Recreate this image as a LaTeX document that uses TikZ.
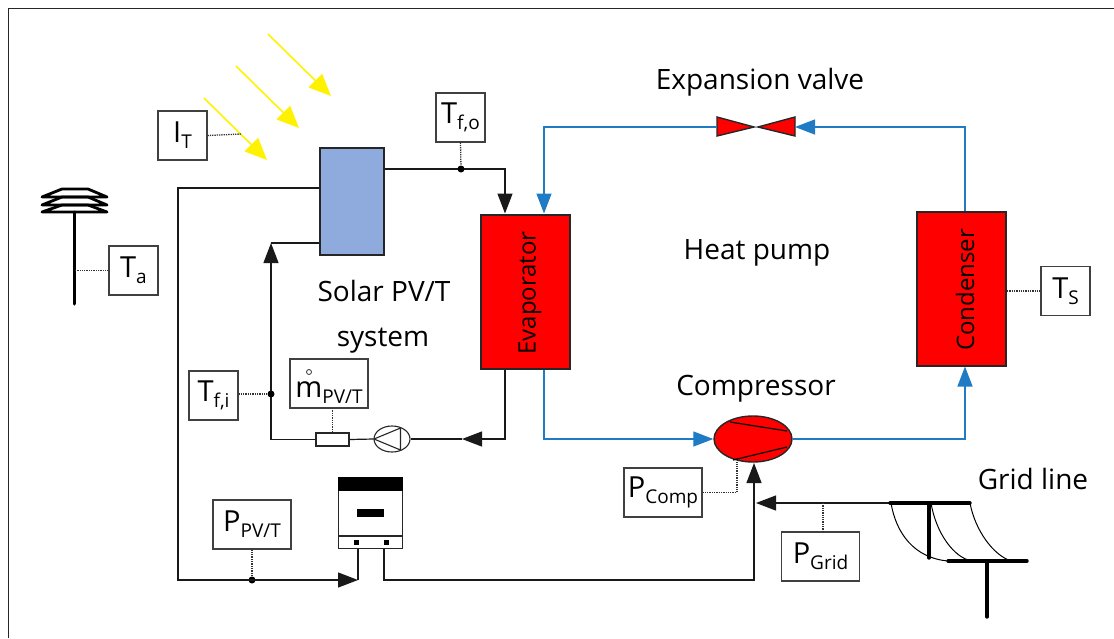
\documentclass[tikz,border=0pt]{standalone}
\usepackage{tikz}
\usepackage{xcolor}
\usepackage{fontspec}
\setmainfont{Open Sans}
\usetikzlibrary{arrows.meta, shapes.geometric}

\definecolor{panelblue}{HTML}{8FAADC}
\definecolor{pipeblue}{HTML}{1F7CC4}

\newcommand{\tagtext}[2]{\fontsize{29}{29}\selectfont #1\raisebox{-6pt}{\fontsize{19}{19}\selectfont #2}}

\tikzset{
  tagbox/.style={draw=black!75, line width=1.1pt, fill=white, minimum height=49pt, inner sep=0pt},
  unit/.style={draw=black!85, line width=2pt, fill=red, inner sep=0pt},
  caption/.style={font=\fontsize{28}{28}\selectfont, inner sep=0pt},
  vertical/.style={rotate=90, font=\fontsize{24}{24}\selectfont, inner sep=0pt},
  wire/.style={line width=1.2pt, black!90},
  pipe/.style={line width=1.3pt, pipeblue},
  probe/.style={line width=1.3pt, black!80, densely dotted},
  wiretip/.style={-{Triangle[length=20pt, width=15pt]}},
  sunray/.style={line width=1.6pt, yellow, -{Triangle[length=22pt, width=19pt]}},
  joint/.style={circle, fill=black, inner sep=0pt, minimum size=7pt},
}

\begin{document}
\begin{tikzpicture}[x=1pt, y=-1pt]
  \useasboundingbox (0,0) rectangle (1114,638);
  % === RAMME ===
  \draw[line width=1pt, black!85] (8,638) -- (8,8) -- (1114,8);

  % === SOL OG PANEL ===
  \coordinate (rayA) at (204,98);
  \coordinate (rayB) at (236,66);
  \coordinate (rayC) at (268,34);
  \draw[sunray] (rayA) -- ++(63,62);
  \draw[sunray] (rayB) -- ++(63,62);
  \draw[sunray] (rayC) -- ++(63,62);
  \node[draw=black!85, line width=2pt, fill=panelblue, minimum width=64pt, minimum height=107pt, inner sep=0pt] (panel) at (351.5,201) {};
  \node[caption] (solarlabel) at (384,291) {Solar PV/T};
  \node[caption] (systemlabel) at (383,341) {system};

  % === ENHETER I VARMEPUMPEN ===
  \node[unit, minimum width=89pt, minimum height=154pt] (evap) at (525,291.5) {};
  \node[vertical] (evaptext) at (530,293) {Evaporator};
  \node[unit, minimum width=89pt, minimum height=154pt] (cond) at (961.5,288.5) {};
  \node[vertical] (condtext) at (965,290) {Condenser};
  \node[unit, ellipse, line width=1.4pt, minimum width=78pt, minimum height=46pt] (comp) at (753,439) {};
  \draw[line width=1.2pt] (730,422) -- (787,431);
  \draw[line width=1.2pt] (733,460) -- (787,447);
  \node[caption] (valvelabel) at (760,82) {Expansion valve};
  \node[caption] (pumplabel) at (757,253) {Heat pump};
  \node[caption] (complabel) at (756,389) {Compressor};

  % Ventil
  \coordinate (valveL) at (717,127);
  \coordinate (valveR) at (795,127);
  \draw[line width=1.4pt, black!85, fill=red] (717,117) -- (754,127) -- (717,136) -- cycle;
  \draw[line width=1.4pt, black!85, fill=red] (795,117) -- (758,127) -- (795,136) -- cycle;

  % === KJOLEMIDDEL (BLA) ===
  \draw[pipe, wiretip] (valveL) -| ([xshift=19pt]evap.north);
  \draw[pipe, wiretip] ([xshift=3.5pt]cond.north) |- (valveR);
  \draw[pipe, wiretip] ([xshift=19pt]evap.south) |- (comp.west);
  \draw[pipe, wiretip] (comp.east) -| ([xshift=3.5pt]cond.south);

  % === TERMISK KRETS ===
  \coordinate (foJoint) at (461,169);
  \coordinate (fiJoint) at (271,394);
  \draw[wire] (panel.east |- foJoint) -- (foJoint);
  \draw[wire, wiretip] (foJoint) -| ([xshift=-20pt]evap.north);
  \node[joint] (fodot) at (foJoint) {};
  \node[draw=black!85, line width=1.3pt, fill=white, minimum width=33pt, minimum height=13pt, inner sep=0pt] (meter) at (332.5,439.5) {};
  \node[draw=black!85, line width=1.1pt, ellipse, fill=white, minimum width=36pt, minimum height=26pt, inner sep=0pt] (pump) at (392,439) {};
  \draw[line width=1.1pt, black!85] (374,439) -- (400.5,428) -- (400.5,450) -- cycle;
  \draw[wire, wiretip] ([xshift=-20pt]evap.south) |- (462,439);
  \draw[wire] (462,439) -- (pump.east);
  \draw[wire] (pump.west) -- (meter.east);
  \draw[wire] (meter.west) -| (fiJoint);
  \draw[wire, wiretip] (fiJoint) -- (271,243);
  \draw[wire] (271,243) -- (panel.west |- 0,243);
  \node[joint] (fidot) at (fiJoint) {};

  % === VEKSELRETTER ===
  \node[draw=black!85, line width=1.3pt, fill=white, minimum width=64pt, minimum height=71pt, inner sep=0pt] (inverter) at (370.5,513) {};
  \fill[black] (inverter.north west) rectangle (403,491);
  \fill[black] (357,509) rectangle (384,517);
  \draw[line width=1.1pt, black!85] (338,536) -- (403,536);
  \fill[black] (353.5,539.5) rectangle (358.5,544.5);
  \fill[black] (383.5,539.5) rectangle (388.5,544.5);

  % === ELEKTRISK KRETS ===
  \coordinate (elJoint) at (252,580);
  \node[joint] (eldot) at (elJoint) {};
  \draw[wire] (panel.west |- 0,188) -| (178,580) -- (elJoint);
  \draw[wire, wiretip] (elJoint) -- (358,580);
  \draw[wire] (358,580) -- (358,549);
  \draw[wire, wiretip] (384,549) |- (754,580) -- (754,463);
  \draw[wire, wiretip] (890,503) -- (756,503);

  % === NETT ===
  \draw[line width=3.4pt, line cap=round] (890,503) -- (970,503);
  \draw[line width=3.4pt, line cap=round] (929,503) -- (929,558);
  \draw[line width=3.4pt, line cap=round] (948,561) -- (1027,561);
  \draw[line width=3.4pt, line cap=round] (987,561) -- (987,617);
  \draw[line width=1pt] (891,503) .. controls (896,533) and (914,558) .. (948,561);
  \draw[line width=1pt] (931,503) .. controls (936,533) and (954,558) .. (972,561);
  \draw[line width=1pt] (970,503) .. controls (975,530) and (993,555) .. (1011,561);
  \node[caption] (gridlabel) at (1033,479) {Grid line};

  % === LUFT ===
  \draw[line width=3pt, line cap=round] (74,212) -- (74,304);
  \draw[line width=2.8pt, line join=round] (42,197) -- (62,189) -- (88,189) -- (107,197) -- cycle;
  \draw[line width=2.8pt, line join=round] (42,205) -- (62,197) -- (88,197) -- (107,205) -- cycle;
  \draw[line width=2.8pt, line join=round] (42,212) -- (62,205) -- (88,205) -- (107,212) -- cycle;

  % === MALEPUNKT ===
  \node[tagbox, minimum width=49pt] (irr) at (182.5,135.5) {\tagtext{I}{T}};
  \node[tagbox, minimum width=49pt] (amb) at (133.5,270.5) {\tagtext{T}{a}};
  \node[tagbox, minimum width=49pt] (tfo) at (460.5,117.5) {\tagtext{T}{f,o}};
  \node[tagbox, minimum width=49pt] (tfi) at (213.5,395.5) {\tagtext{T}{f,i}};
  \node[tagbox, minimum width=49pt] (tsrc) at (1065.5,291) {\tagtext{T}{S}};
  \node[tagbox, minimum width=78pt, text height=27pt, text depth=0pt] (mflow) at (329,383.5) {\tagtext{m}{PV/T}};
  \draw[line width=0.8pt, black!80] (309,372) circle (2.5pt);
  \node[tagbox, minimum width=78pt] (ppv) at (252,524.5) {\tagtext{P}{PV/T}};
  \node[tagbox, minimum width=78pt] (pcomp) at (663,492.5) {\tagtext{P}{Comp}};
  \node[tagbox, minimum width=78pt] (pgrid) at (820.5,556.5) {\tagtext{P}{Grid}};
  \draw[probe] (irr.east) -- (241,134);
  \draw[probe] (amb.west) -- (74,270.5);
  \draw[probe] (tfo.south) -- (fodot);
  \draw[probe] (tfi.east |- fidot) -- (fidot);
  \draw[probe] (cond.east |- tsrc) -- (tsrc.west);
  \draw[probe] (332.5,408) -- (meter.north);
  \draw[probe] (ppv.south) -- (eldot);
  \draw[probe] (pcomp.east) -- (737,492.5) -- (737,462);
  \draw[probe] (823,503) -- (823,532);
\end{tikzpicture}
\end{document}
